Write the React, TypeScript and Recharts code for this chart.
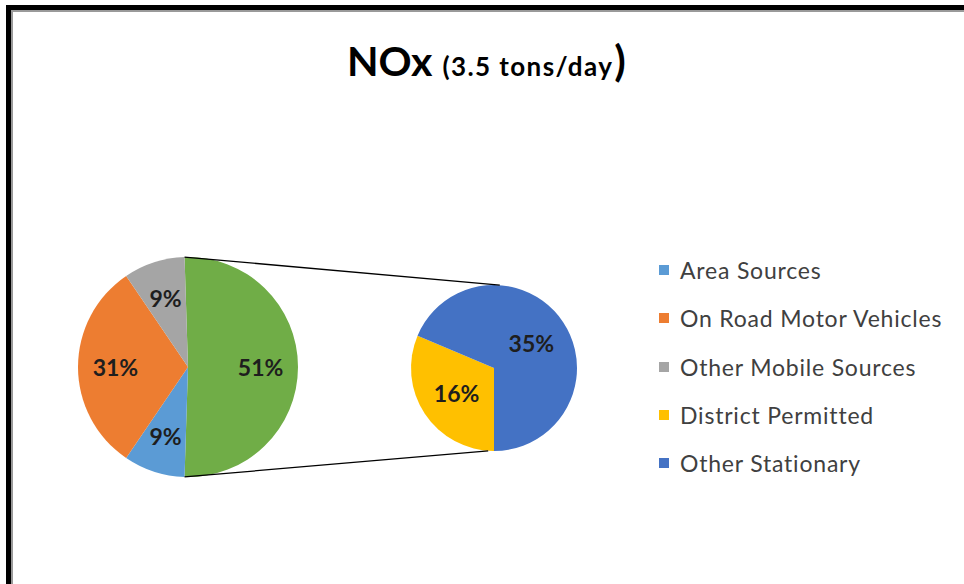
import React from 'react';
import { PieChart, Pie, Cell, Legend } from 'recharts';

// ---- data ----
const mainCategories = ['Area Sources', 'On Road Motor Vehicles', 'Other Mobile Sources'];
const mainValues = [9, 31, 9];
const mainColors = ['#5B9BD5', '#ED7D31', '#A5A5A5'];

const subCategories = ['District Permitted', 'Other Stationary'];
const subValues = [16, 35];
const subColors = ['#FFC000', '#4472C4'];

const otherName = 'Other';
const otherColor = '#70AD47';

const titleMain = 'NOx';
const titleSub = '(3.5 tons/day';
const titleClose = ')';

// ---- derived ----
const otherTotal = subValues.reduce((a, b) => a + b, 0);
const grandTotal = otherTotal + mainValues.reduce((a, b) => a + b, 0);
const mainData = [
  { name: otherName, value: otherTotal, color: otherColor },
  ...mainCategories.map((n, i) => ({ name: n, value: mainValues[i], color: mainColors[i] })),
];
const subData = subCategories.map((n, i) => ({ name: n, value: subValues[i], color: subColors[i] }));
const legendItems = [
  ...mainCategories.map((n, i) => ({ name: n, color: mainColors[i] })),
  ...subCategories.map((n, i) => ({ name: n, color: subColors[i] })),
];

// ---- layout ----
const W = 964;
const H = 584;
const MAIN = { cx: 188, cy: 367, r: 110 };
const SUB = { cx: 494, cy: 368, r: 83 };
const otherAngle = (otherTotal / grandTotal) * 360;
const mainStart = otherAngle / 2;
const mainEnd = mainStart - 360;
const SUB_TOP_ANGLE = 86;
const SUB_BOTTOM_ANGLE = 266;
const RAD = Math.PI / 180;
const FONT = 'Lato, "Open Sans", sans-serif';
const LABEL_COLOR = '#1e1e1e';

const pt = (c: { cx: number; cy: number; r: number }, a: number) => ({
  x: c.cx + c.r * Math.cos(a * RAD),
  y: c.cy - c.r * Math.sin(a * RAD),
});

const makeLabel = (frac: number, withConnectors: boolean) => (props: any) => {
  const { cx, cy, midAngle, outerRadius, index, value } = props;
  const r = outerRadius * frac;
  const x = cx + r * Math.cos(-midAngle * RAD);
  const y = cy + r * Math.sin(-midAngle * RAD);
  let connectors = null;
  if (withConnectors && index === 0) {
    const a = pt(MAIN, mainStart);
    const b = pt(MAIN, mainStart - otherAngle);
    const c = pt(SUB, SUB_TOP_ANGLE);
    const d = pt(SUB, SUB_BOTTOM_ANGLE);
    connectors = (
      <g>
        <line x1={a.x} y1={a.y} x2={c.x} y2={c.y} stroke="#000" strokeWidth={1.3} />
        <line x1={b.x} y1={b.y} x2={d.x} y2={d.y} stroke="#000" strokeWidth={1.3} />
      </g>
    );
  }
  return (
    <g>
      {connectors}
      <text
        x={x}
        y={y}
        textAnchor="middle"
        dominantBaseline="central"
        fontFamily={FONT}
        fontWeight={700}
        fontSize={23}
        fill={LABEL_COLOR}
      >
        {`${value}%`}
      </text>
    </g>
  );
};

const renderLegend = () => (
  <div style={{ fontFamily: FONT, fontSize: 23, letterSpacing: 0.8, color: '#404040' }}>
    {legendItems.map((it) => (
      <div key={it.name} style={{ display: 'flex', alignItems: 'center', height: 48.3 }}>
        <span style={{ display: 'inline-block', width: 10, height: 10, background: it.color, marginRight: 11 }} />
        <span style={{ whiteSpace: 'nowrap' }}>{it.name}</span>
      </div>
    ))}
  </div>
);

export default function App() {
  return (
    <div style={{ position: 'absolute', left: 0, top: 0, width: W, height: H, background: '#fff', overflow: 'hidden' }}>
      <div style={{ position: 'absolute', left: 6, top: 5, width: W - 6, height: 5, background: '#000' }} />
      <div style={{ position: 'absolute', left: 6, top: 5, width: 5, height: H - 5, background: '#000' }} />
      <div style={{ position: 'absolute', left: 11, top: 10, width: W - 11, height: 2, background: '#9a9a9a' }} />
      <div style={{ position: 'absolute', left: 11, top: 10, width: 2, height: H - 10, background: '#9a9a9a' }} />
      <svg style={{ position: 'absolute', left: 0, top: 0 }} width={W} height={100}>
        <text x={347} y={76} fontFamily={FONT} fontWeight={700} fill="#000">
          <tspan fontSize={41}>{titleMain}</tspan>
          <tspan dx={10} fontSize={26} letterSpacing={1.4}>{titleSub}</tspan>
          <tspan dx={1} fontSize={42}>{titleClose}</tspan>
        </text>
      </svg>
      <div style={{ position: 'absolute', left: 0, top: 0 }}>
        <PieChart width={W} height={H} margin={{ top: 0, right: 0, bottom: 0, left: 0 }}>
          <Pie
            data={mainData}
            dataKey="value"
            nameKey="name"
            cx={MAIN.cx}
            cy={MAIN.cy}
            outerRadius={MAIN.r}
            startAngle={mainStart}
            endAngle={mainEnd}
            stroke="none"
            labelLine={false}
            label={makeLabel(0.66, true)}
            isAnimationActive={false}
          >
            {mainData.map((d) => (
              <Cell key={d.name} fill={d.color} />
            ))}
          </Pie>
          <Pie
            data={subData}
            dataKey="value"
            nameKey="name"
            cx={SUB.cx}
            cy={SUB.cy}
            outerRadius={SUB.r}
            startAngle={270}
            endAngle={-90}
            stroke="none"
            labelLine={false}
            label={makeLabel(0.54, false)}
            isAnimationActive={false}
          >
            {subData.map((d) => (
              <Cell key={d.name} fill={d.color} />
            ))}
          </Pie>
          <Legend
            content={renderLegend}
            wrapperStyle={{ position: 'absolute', left: 659, top: 246, width: 300 }}
          />
        </PieChart>
      </div>
    </div>
  );
}
